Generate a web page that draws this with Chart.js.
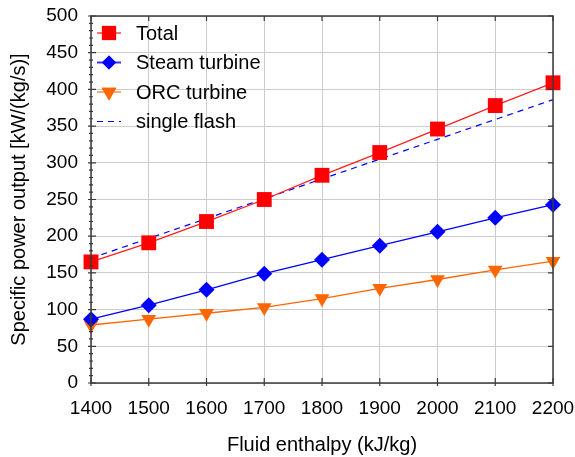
<!DOCTYPE html>
<html lang="en">
<head>
    <meta charset="UTF-8">
    <title>Specific power output vs fluid enthalpy</title>
    <script src="https://cdn.jsdelivr.net/npm/chart.js"></script>
    <style>
        html, body { margin: 0; padding: 0; background: #fff; }
        #wrap { width: 575px; height: 457px; }
    </style>
</head>
<body>
    <div id="wrap"><canvas id="powerChart" width="575" height="457"></canvas></div>

    <script>
        // data
        const enthalpy = [1400, 1500, 1600, 1700, 1800, 1900, 2000, 2100, 2200];
        const totalOutput = [165, 191, 220, 250, 283, 314, 346, 378, 409];
        const steamTurbine = [87, 106, 127, 149, 168, 187, 206, 225, 243];
        const orcTurbine = [79, 87, 95, 103, 115, 129, 141, 154, 166];
        const singleFlash = [170, 197, 224, 251, 278, 305, 332, 359, 386];
        const yTicks = [0, 50, 100, 150, 200, 250, 300, 350, 400, 450, 500];

        const FONT = 'Liberation Sans, Arial, sans-serif';

        function toPoints(values) {
            return enthalpy.map((x, i) => ({ x: x, y: values[i] }));
        }

        // legend entries (drawn by plugin so the line + marker look matches)
        const legendItems = [
            { text: 'Total', color: 'rgba(255,0,0,0.55)', mark: '#ff0000', style: 'rect', r: 10 },
            { text: 'Steam turbine', color: 'rgba(0,0,255,0.8)', mark: '#0000ff', style: 'rectRot', r: 7 },
            { text: 'ORC turbine', color: 'rgba(255,102,0,0.55)', mark: '#ff6600', style: 'triangle', r: 8.5 },
            { text: 'single flash', color: '#0000ff', mark: null, dash: [6, 5] }
        ];

        // frame, inside ticks, minor ticks and legend
        const framePlugin = {
            id: 'framePlugin',
            afterDatasetsDraw(chart) {
                const ctx = chart.ctx;
                const a = chart.chartArea;
                const xs = chart.scales.x;
                const ys = chart.scales.y;
                ctx.save();
                ctx.strokeStyle = '#3a3a3a';
                ctx.lineWidth = 1.5;
                ctx.strokeRect(a.left, a.top, a.right - a.left, a.bottom - a.top);

                ctx.lineWidth = 1.2;
                ctx.beginPath();
                // major ticks
                enthalpy.forEach(v => {
                    const px = xs.getPixelForValue(v);
                    ctx.moveTo(px, a.top); ctx.lineTo(px, a.top + 5);
                    ctx.moveTo(px, a.bottom + 3); ctx.lineTo(px, a.bottom - 5);
                });
                yTicks.forEach(v => {
                    const py = ys.getPixelForValue(v);
                    ctx.moveTo(a.right, py); ctx.lineTo(a.right - 5, py);
                    ctx.moveTo(a.left - 3, py); ctx.lineTo(a.left + 5, py);
                });
                // minor ticks on the left axis every 10
                for (let v = 10; v < 500; v += 10) {
                    if (v % 50 === 0) continue;
                    const py = ys.getPixelForValue(v);
                    ctx.moveTo(a.left - 2, py); ctx.lineTo(a.left + 2, py);
                }
                ctx.stroke();

                // legend
                ctx.font = '20px ' + FONT;
                ctx.textBaseline = 'middle';
                ctx.fillStyle = '#000';
                const rowY = [33, 62.5, 92, 121.5];
                legendItems.forEach((item, i) => {
                    const y = rowY[i];
                    ctx.save();
                    ctx.strokeStyle = item.color;
                    ctx.lineWidth = item.dash ? 1.2 : 2;
                    if (item.dash) ctx.setLineDash(item.dash);
                    ctx.beginPath();
                    ctx.moveTo(97, y); ctx.lineTo(121, y);
                    ctx.stroke();
                    ctx.restore();
                    if (item.mark) {
                        ctx.fillStyle = item.mark;
                        Chart.helpers.drawPoint(ctx, {
                            pointStyle: item.style,
                            radius: item.r,
                            borderWidth: 0,
                            rotation: item.style === 'triangle' ? 180 : 0
                        }, 109, y);
                        ctx.fill();
                    }
                    ctx.fillStyle = '#000';
                    ctx.fillText(item.text, 136, y + 1);
                });
                ctx.restore();
            }
        };

        const ctx = document.getElementById('powerChart').getContext('2d');
        new Chart(ctx, {
            type: 'line',
            data: {
                datasets: [
                    {
                        label: 'single flash',
                        data: toPoints(singleFlash),
                        borderColor: '#0000ff',
                        borderWidth: 1.2,
                        borderDash: [6, 5],
                        pointRadius: 0,
                        order: 4
                    },
                    {
                        label: 'ORC turbine',
                        data: toPoints(orcTurbine),
                        borderColor: '#ff6600',
                        backgroundColor: '#ff6600',
                        borderWidth: 1.3,
                        pointStyle: 'triangle',
                        pointRotation: 180,
                        pointRadius: 8.5,
                        pointBorderWidth: 0,
                        order: 3
                    },
                    {
                        label: 'Steam turbine',
                        data: toPoints(steamTurbine),
                        borderColor: '#0000ff',
                        backgroundColor: '#0000ff',
                        borderWidth: 1.3,
                        pointStyle: 'rectRot',
                        pointRadius: 8,
                        pointBorderWidth: 0,
                        order: 2
                    },
                    {
                        label: 'Total',
                        data: toPoints(totalOutput),
                        borderColor: '#ff2020',
                        backgroundColor: '#ff0000',
                        borderWidth: 1.3,
                        pointStyle: 'rect',
                        pointRadius: 10.5,
                        pointBorderWidth: 0,
                        order: 1
                    }
                ]
            },
            options: {
                responsive: false,
                animation: false,
                clip: false,
                layout: { padding: { top: 16, right: 22, left: 7, bottom: 0 } },
                plugins: {
                    legend: { display: false },
                    tooltip: { enabled: false }
                },
                scales: {
                    x: {
                        type: 'linear',
                        min: 1400,
                        max: 2200,
                        afterFit(scale) {
                            scale.height = 74;
                            scale.paddingLeft = 0;
                            scale.paddingRight = 0;
                        },
                        afterBuildTicks(scale) { scale.ticks = enthalpy.map(v => ({ value: v })); },
                        ticks: {
                            color: '#000',
                            font: { family: FONT, size: 19 },
                            padding: 14,
                            maxRotation: 0,
                            callback: v => String(v)
                        },
                        grid: { color: '#cccccc', lineWidth: 1, drawTicks: false },
                        border: { display: false },
                        title: {
                            display: true,
                            text: 'Fluid enthalpy (kJ/kg)',
                            color: '#000',
                            font: { family: FONT, size: 20 },
                            padding: { top: 3, bottom: 0 }
                        }
                    },
                    y: {
                        min: 0,
                        max: 500,
                        afterFit(scale) {
                            scale.width = 84;
                            scale.paddingTop = 0;
                            scale.paddingBottom = 0;
                        },
                        afterBuildTicks(scale) { scale.ticks = yTicks.map(v => ({ value: v })); },
                        ticks: {
                            color: '#000',
                            font: { family: FONT, size: 19 },
                            padding: 13,
                            callback: v => String(v)
                        },
                        grid: { color: '#cccccc', lineWidth: 1, drawTicks: false },
                        border: { display: false },
                        title: {
                            display: true,
                            text: 'Specific power output [kW/(kg/s)]',
                            color: '#000',
                            font: { family: FONT, size: 20 },
                            padding: { top: 0, bottom: 2 }
                        }
                    }
                }
            },
            plugins: [framePlugin]
        });
    </script>
</body>
</html>
